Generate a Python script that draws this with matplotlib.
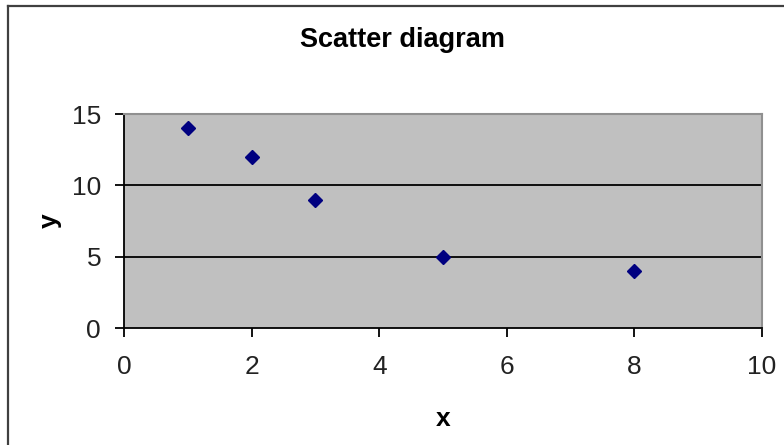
# Scatter diagram, Excel style
import matplotlib.pyplot as plt
from matplotlib.lines import Line2D

x_vals = [1, 2, 3, 5, 8]
y_vals = [14, 12, 9, 5, 4]
x_ticks = [0, 2, 4, 6, 8, 10]
y_ticks = [0, 5, 10, 15]

W, H = 784, 445
f = plt.figure(figsize=(W/100, H/100), dpi=100, facecolor='white')
plt.rcParams['font.family'] = ['Liberation Sans', 'DejaVu Sans']

# plot area in pixels: left 124, right 762, top 114, bottom 328
ax = f.add_axes([124/W, 1-328/H, (762-124)/W, (328-114)/H])
ax.set_facecolor('#c0c0c0')

ax.plot(x_vals, y_vals, 'D', color='#000080', markersize=7.5, linestyle='none', zorder=3)

ax.set_xlim(0, 10)
ax.set_ylim(0, 15)
ax.set_xticks(x_ticks)
ax.set_yticks(y_ticks)
for yv in y_ticks[1:-1]:
    ax.axhline(yv, color='black', linewidth=1.3, zorder=1)

ax.spines['left'].set_color('black')
ax.spines['bottom'].set_color('black')
ax.spines['left'].set_linewidth(1.3)
ax.spines['bottom'].set_linewidth(1.3)
ax.spines['top'].set_color('#909090')
ax.spines['right'].set_color('#909090')
ax.spines['top'].set_linewidth(1.5)
ax.spines['right'].set_linewidth(1.5)

ax.tick_params(axis='both', direction='out', length=6.5, width=1.3, color='black',
               labelsize=19, labelcolor='#222222')
ax.tick_params(axis='y', pad=10)
ax.tick_params(axis='x', pad=13)

ax.set_xlabel('x', fontsize=19, fontweight='bold', labelpad=20)
ax.set_ylabel('y', fontsize=19, fontweight='bold', labelpad=7)

f.text(402/W, 1-40/H, 'Scatter diagram', fontsize=19.5, fontweight='bold',
       ha='center', va='center')

# outer chart frame (runs off the right and bottom edges)
f.add_artist(Line2D([7.5/W, 1.0], [1-6/H, 1-6/H], transform=f.transFigure,
                    color='#404040', linewidth=1.6))
f.add_artist(Line2D([7.5/W, 7.5/W], [1-6/H, 0.0], transform=f.transFigure,
                    color='#404040', linewidth=1.6))

f.savefig('out.png', dpi=100)
